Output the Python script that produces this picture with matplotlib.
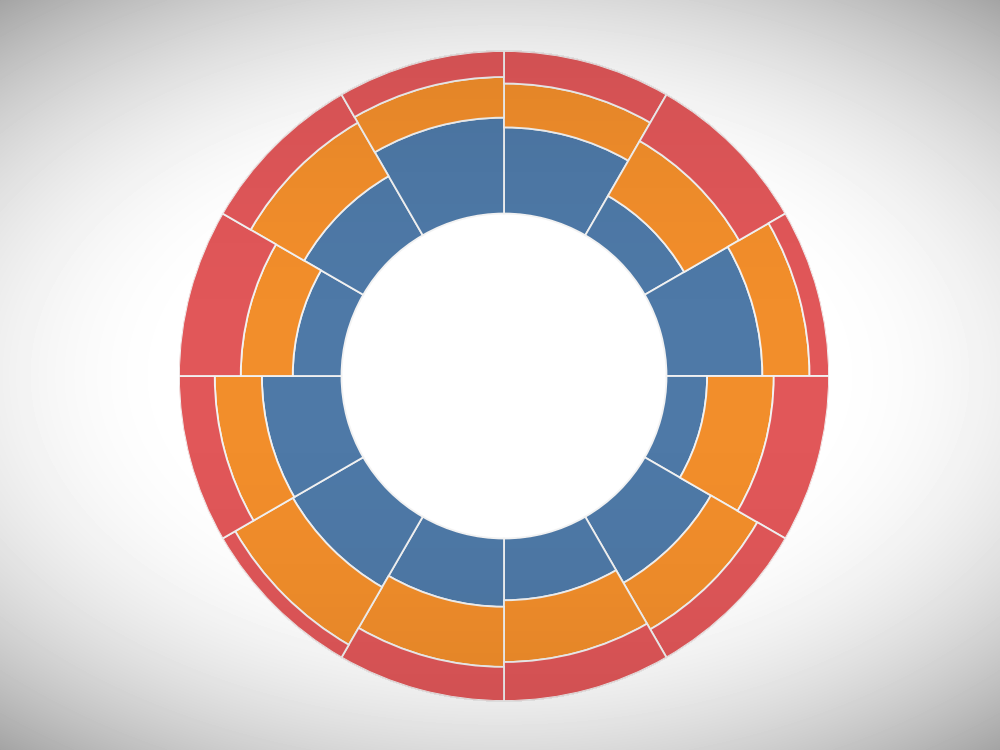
import numpy as np
import matplotlib
matplotlib.use("Agg")
import matplotlib.pyplot as plt

# twelve equal sectors, clockwise from 12 o'clock; each stack sums to 100
sectors = list(range(12))
blue = [53, 28, 59, 25, 47, 38, 42, 50, 49, 30, 42, 59]
orange = [27, 39, 29, 41, 33, 38, 37, 41, 29, 32, 38, 25]
red = [20, 33, 12, 34, 20, 24, 21, 9, 22, 38, 20, 16]
series = [blue, orange, red]
colors = ["#4e79a7", "#f28e2b", "#e15759"]

hole = 100  # inner empty radius, same units as the values

fig = plt.figure(figsize=(10, 7.5), dpi=100)

# vignette background: white in the middle, grey towards the edges
bg = fig.add_axes([0, 0, 1, 1])
xx, yy = np.meshgrid(np.linspace(-1, 1, 1000), np.linspace(-1, 1, 750))
d = np.sqrt((xx * 0.827) ** 2 + yy ** 2)
shade = 1 - 0.56 * np.clip(d - 0.5, 0, None) ** 2
bg.imshow(shade, cmap="gray", vmin=0, vmax=1, aspect="auto", extent=[0, 1, 0, 1])
bg.axis("off")

ax = fig.add_axes([0.179, 0.0653, 0.65, 0.8667], projection="polar")
ax.patch.set_alpha(0)
ax.set_theta_zero_location("N")
ax.set_theta_direction(-1)

width = 2 * np.pi / len(sectors)
theta = np.array(sectors) * width + width / 2
bottom = np.full(len(sectors), hole, dtype=float)
for vals, col in zip(series, colors):
    ax.bar(theta, vals, width=width, bottom=bottom, color=col,
           edgecolor="#f2f2f2", linewidth=1.3)
    bottom += np.array(vals)

ax.set_ylim(0, hole + 100)
ax.set_xticks([])
ax.set_yticks([])
ax.grid(False)
ax.spines["polar"].set_visible(False)

# soft lighting on the ring: a bit darker towards top and bottom
top = fig.add_axes([0, 0, 1, 1])
px, py = np.meshgrid(np.arange(1000) + 0.5, np.arange(750) + 0.5)
dx, dy = px - 504, py - 376
rr = np.hypot(dx, dy)
alpha = 0.07 * (dy / 325) ** 2
alpha[(rr < 163) | (rr > 326)] = 0
light = np.zeros((750, 1000, 4))
light[..., 3] = alpha
top.imshow(light, extent=[0, 1000, 750, 0], aspect="auto", interpolation="nearest")
top.set_xlim(0, 1000)
top.set_ylim(750, 0)
top.axis("off")

fig.savefig("out.png", dpi=100)
